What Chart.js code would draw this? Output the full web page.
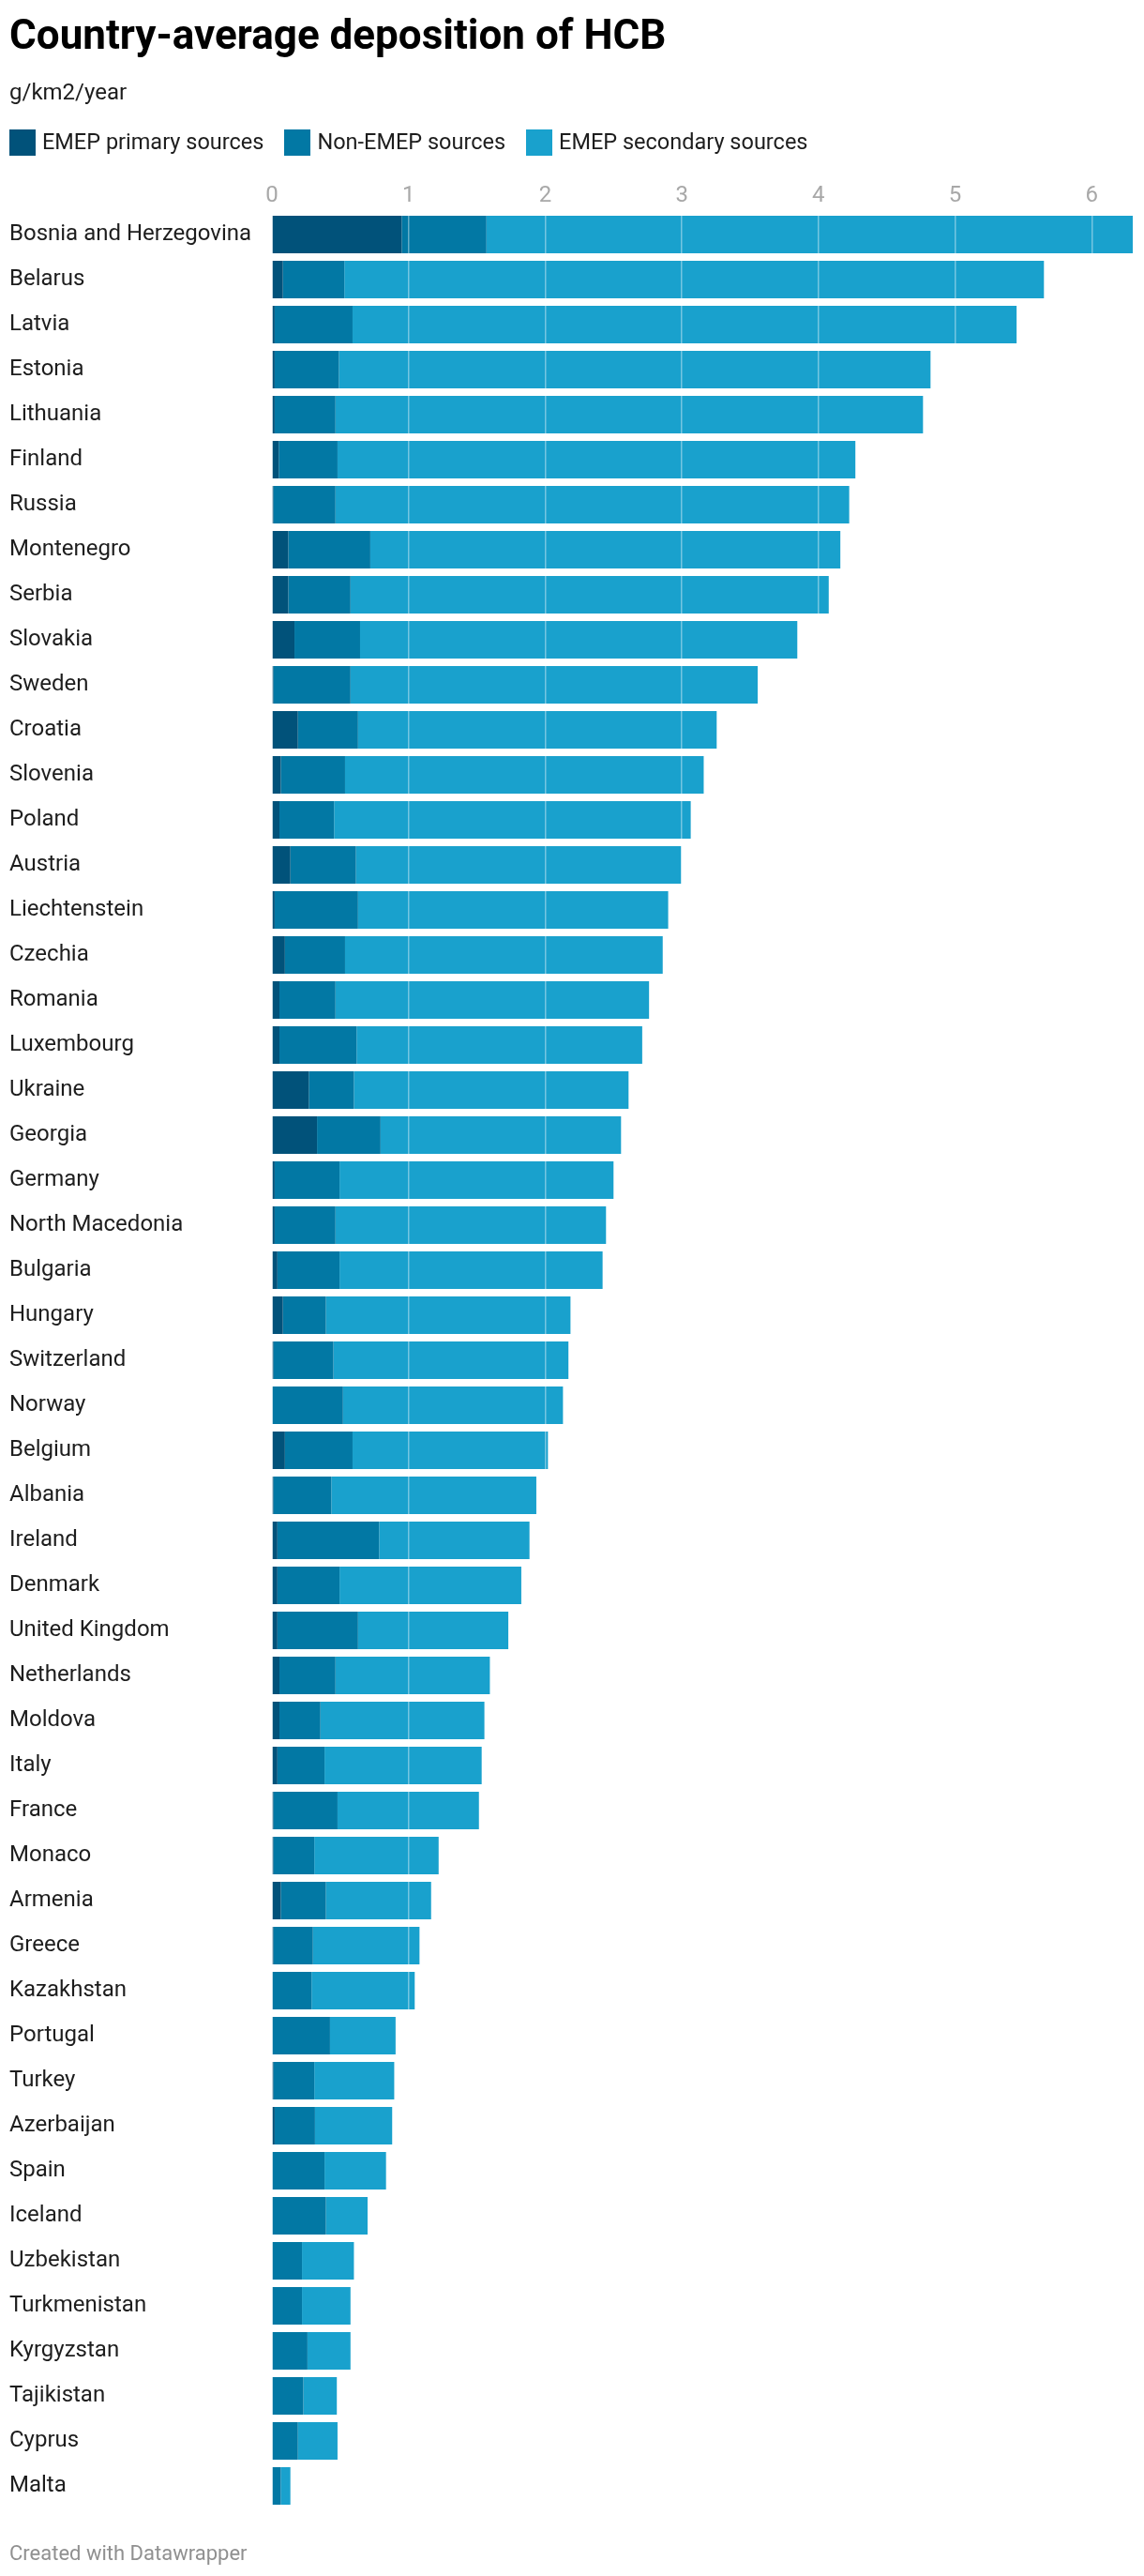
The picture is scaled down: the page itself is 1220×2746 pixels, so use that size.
<!DOCTYPE html>
<html lang="en">
<head>
    <meta charset="UTF-8">
    <title>Country-average deposition of HCB</title>
    <script src="https://cdn.jsdelivr.net/npm/chart.js"></script>
    <style>
        body { margin: 0; background: #fff; font-family: Roboto, sans-serif; }
        #wrap { position: relative; width: 1220px; height: 2746px; }
        #wrap canvas { position: absolute; left: 0; top: 0; }
        .txt { position: absolute; left: 10px; line-height: 1; white-space: nowrap; }
        #title { top: 15px; font-size: 44px; font-weight: 700; color: #000; }
        #subtitle { top: 86px; font-size: 24px; color: #1d1d1d; }
        #legend { position: absolute; left: 10px; top: 138px; display: flex; align-items: center; }
        .item { display: flex; align-items: center; margin-right: 22px; font-size: 23.5px; line-height: 1; color: #1d1d1d; }
        .swatch { width: 28px; height: 28px; margin-right: 7px; }
        #footer { top: 2711px; font-size: 22px; color: #909090; }
    </style>
</head>
<body>
    <div id="wrap">
        <canvas id="hcbChart" width="1220" height="2746"></canvas>
        <div class="txt" id="title">Country-average deposition of HCB</div>
        <div class="txt" id="subtitle">g/km2/year</div>
        <div id="legend"></div>
        <div class="txt" id="footer">Created with Datawrapper</div>
    </div>
    <script>
// values (g/km2/year)
const countries = [
    'Bosnia and Herzegovina', 'Belarus', 'Latvia', 'Estonia', 'Lithuania', 'Finland', 'Russia',
    'Montenegro', 'Serbia', 'Slovakia', 'Sweden', 'Croatia', 'Slovenia', 'Poland', 'Austria',
    'Liechtenstein', 'Czechia', 'Romania', 'Luxembourg', 'Ukraine', 'Georgia', 'Germany',
    'North Macedonia', 'Bulgaria', 'Hungary', 'Switzerland', 'Norway', 'Belgium', 'Albania',
    'Ireland', 'Denmark', 'United Kingdom', 'Netherlands', 'Moldova', 'Italy', 'France',
    'Monaco', 'Armenia', 'Greece', 'Kazakhstan', 'Portugal', 'Turkey', 'Azerbaijan', 'Spain',
    'Iceland', 'Uzbekistan', 'Turkmenistan', 'Kyrgyzstan', 'Tajikistan', 'Cyprus', 'Malta'
];

const emepPrimary = [
    0.95, 0.08, 0.02, 0.02, 0.02, 0.05, 0.01, 0.12, 0.12, 0.165,
    0.01, 0.19, 0.065, 0.055, 0.135, 0.02, 0.095, 0.055, 0.055, 0.27,
    0.33, 0.02, 0.02, 0.04, 0.08, 0.01, 0, 0.095, 0.01, 0.04,
    0.04, 0.04, 0.055, 0.055, 0.04, 0.01, 0.01, 0.065, 0.01, 0,
    0, 0.01, 0.02, 0, 0, 0, 0, 0, 0, 0, 0
];

const nonEmep = [
    0.62, 0.45, 0.57, 0.47, 0.445, 0.43, 0.455, 0.60, 0.455, 0.48,
    0.565, 0.44, 0.47, 0.40, 0.48, 0.61, 0.44, 0.41, 0.565, 0.33,
    0.465, 0.475, 0.445, 0.455, 0.315, 0.44, 0.52, 0.495, 0.425, 0.745,
    0.455, 0.59, 0.41, 0.30, 0.345, 0.47, 0.30, 0.33, 0.29, 0.29,
    0.425, 0.30, 0.295, 0.385, 0.395, 0.22, 0.22, 0.26, 0.23, 0.19, 0.065
];

const emepSecondary = [
    4.73, 5.12, 4.86, 4.33, 4.30, 3.79, 3.76, 3.44, 3.50, 3.20,
    2.98, 2.625, 2.625, 2.61, 2.38, 2.27, 2.325, 2.295, 2.09, 2.01,
    1.76, 2.005, 1.98, 1.925, 1.79, 1.72, 1.61, 1.43, 1.50, 1.10,
    1.33, 1.10, 1.13, 1.20, 1.15, 1.035, 0.91, 0.77, 0.78, 0.755,
    0.48, 0.585, 0.565, 0.45, 0.305, 0.38, 0.355, 0.315, 0.245, 0.29, 0.07
];

const xTicks = [0, 1, 2, 3, 4, 5, 6];

const seriesNames = ['EMEP primary sources', 'Non-EMEP sources', 'EMEP secondary sources'];
const seriesColors = ['#01527a', '#0278a4', '#19a1cd'];

// html legend like the original
const legendBox = document.getElementById('legend');
seriesNames.forEach((name, i) => {
    const item = document.createElement('div');
    item.className = 'item';
    item.innerHTML = '<span class="swatch" style="background:' + seriesColors[i] + '"></span>' + name;
    legendBox.appendChild(item);
});

const seriesData = [emepPrimary, nonEmep, emepSecondary];

const ctx = document.getElementById('hcbChart').getContext('2d');
const chart = new Chart(ctx, {
    type: 'bar',
    data: {
        labels: countries,
        datasets: seriesNames.map((name, i) => ({
            label: name,
            data: seriesData[i],
            backgroundColor: seriesColors[i],
            borderWidth: 0,
            barPercentage: 40 / 48,
            categoryPercentage: 1
        }))
    },
    options: {
        indexAxis: 'y',
        responsive: false,
        animation: false,
        layout: {
            padding: { left: 10, right: 12, top: 180, bottom: 72 }
        },
        plugins: {
            legend: { display: false },
            tooltip: { enabled: false }
        },
        scales: {
            x: {
                position: 'top',
                stacked: true,
                min: 0,
                max: 6.3,
                afterBuildTicks: scale => {
                    scale.ticks = xTicks.map(v => ({ value: v }));
                },
                afterFit: scale => { scale.height = 46; },
                ticks: {
                    padding: 3,
                    color: '#a8a8a8',
                    font: { family: 'Roboto', size: 24 }
                },
                grid: {
                    z: 1,
                    drawTicks: false,
                    lineWidth: 1.5,
                    color: c => (c.tick && c.tick.value === 0) ? 'rgba(0,0,0,0)' : 'rgba(255,255,255,0.4)'
                },
                border: { display: false }
            },
            y: {
                stacked: true,
                afterFit: scale => { scale.width = 280; },
                ticks: {
                    autoSkip: false,
                    crossAlign: 'far',
                    padding: 0,
                    color: '#1d1d1d',
                    font: { family: 'Roboto', size: 24 }
                },
                grid: { display: false, drawTicks: false },
                border: { display: false }
            }
        }
    }
});
    </script>
</body>
</html>
